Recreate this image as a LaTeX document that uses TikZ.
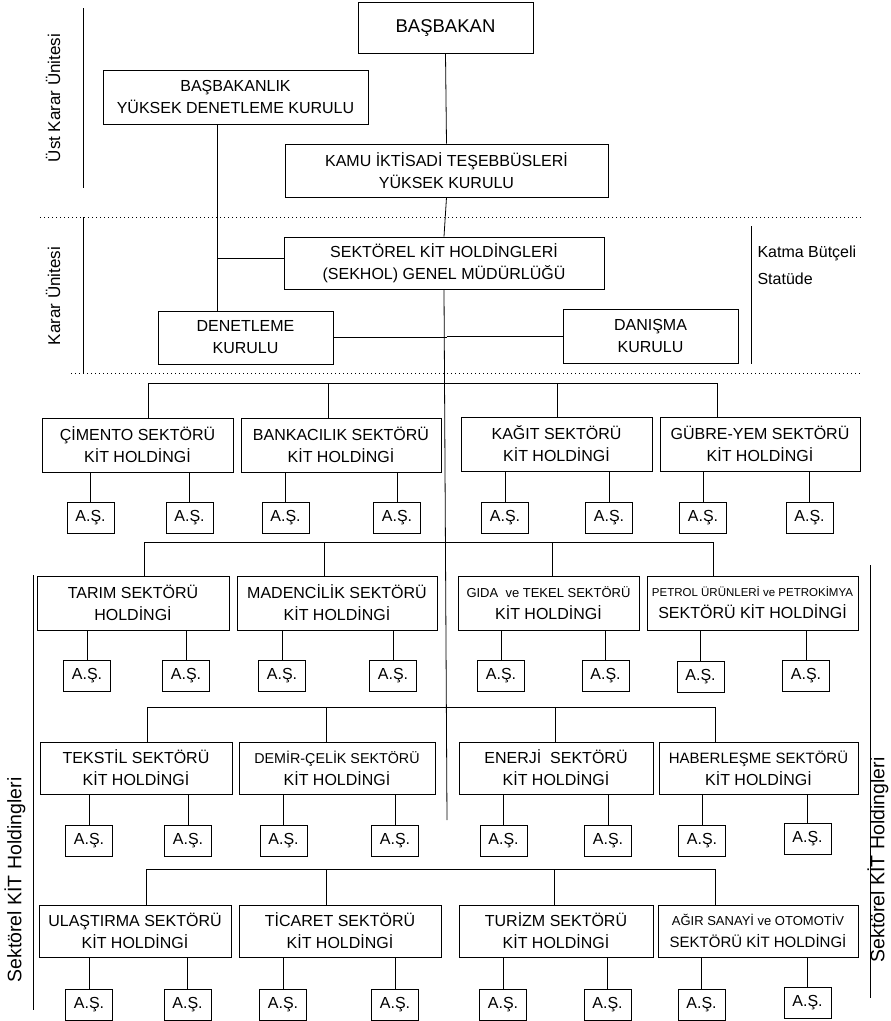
\documentclass[tikz,border=0pt]{standalone}
\usepackage{fontspec}
\setmainfont{Liberation Sans}
\begin{document}
\begin{tikzpicture}[x=1pt,y={(0pt,-1pt)},
  line/.style={line width=0.8pt},
  box/.style={draw,line width=0.8pt,fill=white,inner sep=0pt,align=center,font=\fontsize{16}{22}\selectfont},
  asbox/.style={draw,line width=0.8pt,fill=white,inner sep=0pt,minimum width=47pt,minimum height=31pt,font=\fontsize{16}{20}\selectfont},
  dotline/.style={line width=0.8pt,dash pattern=on 0.8pt off 3.2pt},
  side/.style={font=\fontsize{16}{20}\selectfont},
  bigside/.style={font=\fontsize{19.5}{22}\selectfont}]
\useasboundingbox (0,0) rectangle (891,1021);

% ---------- top part ----------
\node[box,minimum width=175pt,minimum height=51pt,font=\fontsize{18.5}{22}\selectfont] (bas) at (445.5,27.5) {BAŞBAKAN};
\node[box,minimum width=265pt,minimum height=54pt] (ykd) at (235.5,97) {BAŞBAKANLIK\\YÜKSEK DENETLEME KURULU};
\node[box,minimum width=323pt,minimum height=53pt] (kamu) at (446.5,170.5) {KAMU İKTİSADİ TEŞEBBÜSLERİ\\YÜKSEK KURULU};
\node[box,minimum width=320pt,minimum height=52pt] (sek) at (444,263) {SEKTÖREL KİT HOLDİNGLERİ\\(SEKHOL) GENEL MÜDÜRLÜĞÜ};
\node[box,minimum width=175pt,minimum height=53pt] (den) at (245.5,337.5) {DENETLEME\\KURULU};
\node[box,minimum width=175pt,minimum height=54pt] (dan) at (650.5,336) {DANIŞMA\\KURULU};

\coordinate (trunkend) at (447,820);
\coordinate (c1) at (217,258);
\draw[line] (bas.south) -- (kamu.north);
\draw[line] (kamu.south) -- (sek.north);
\draw[line] (sek.south) -- (trunkend);
\draw[line] (c1 |- ykd.south) -- (c1 |- den.north);
\draw[line] (c1) -- (c1 -| sek.west);
\draw[line] (den.east) -- (den.east -| trunkend);
\draw[line] (dan.west -| trunkend) -- (dan.west);

% side markers
\coordinate (u1) at (83,8);  \coordinate (u2) at (83,188);
\coordinate (k1) at (83,217); \coordinate (k2) at (83,373);
\coordinate (m1) at (751,226); \coordinate (m2) at (751,364);
\coordinate (s1) at (33,575); \coordinate (s2) at (33,1010);
\coordinate (t1) at (870,565); \coordinate (t2) at (870,998);
\draw[line] (u1) -- (u2);
\draw[line] (k1) -- (k2);
\draw[line] (m1) -- (m2);
\draw[line] (s1) -- (s2);
\draw[line] (t1) -- (t2);
\coordinate (d1a) at (40,217); \coordinate (d1b) at (861,217);
\coordinate (d2a) at (71,373); \coordinate (d2b) at (861,373);
\draw[dotline] (d1a) -- (d1b);
\draw[dotline] (d2a) -- (d2b);
\node[side,rotate=90,font=\fontsize{17}{20}\selectfont] (lu) at (53,98) {Üst Karar Ünitesi};
\node[side,rotate=90,font=\fontsize{17}{20}\selectfont] (lk) at (53,296) {Karar Ünitesi};
\node[side,anchor=west] (lm1) at (754,253) {Katma Bütçeli};
\node[side,anchor=west] (lm2) at (754,279) {Statüde};
\node[bigside,rotate=90] (ls) at (15,880) {Sektörel KİT Holdingleri};
\node[bigside,rotate=90] (lt) at (878,860) {Sektörel KİT Holdingleri};

% ---------- row 1 ----------
\node[box,minimum width=191pt,minimum height=54pt] (cim) at (137.5,445) {ÇİMENTO SEKTÖRÜ\\KİT HOLDİNGİ};
\node[box,minimum width=200pt,minimum height=54pt] (ban) at (341,445) {BANKACILIK SEKTÖRÜ\\KİT HOLDİNGİ};
\node[box,minimum width=191pt,minimum height=54pt] (kag) at (556.5,444) {KAĞIT SEKTÖRÜ\\KİT HOLDİNGİ};
\node[box,minimum width=200pt,minimum height=54pt] (gub) at (760,444) {GÜBRE-YEM SEKTÖRÜ\\KİT HOLDİNGİ};
\coordinate (r1a) at (148,383); \coordinate (r1b) at (328,383);
\coordinate (r1c) at (557,383); \coordinate (r1d) at (717,383);
\draw[line] (r1a) -- (r1d);
\draw[line] (r1a) -- (r1a |- cim.north);
\draw[line] (r1b) -- (r1b |- ban.north);
\draw[line] (r1c) -- (r1c |- kag.north);
\draw[line] (r1d) -- (r1d |- gub.north);
\node[asbox] (a11) at (90.5,517.5) {A.Ş.};
\node[asbox] (a12) at (189.5,517.5) {A.Ş.};
\node[asbox] (a13) at (285.5,517.5) {A.Ş.};
\node[asbox] (a14) at (397,517.5) {A.Ş.};
\node[asbox] (a15) at (505,517.5) {A.Ş.};
\node[asbox] (a16) at (609,517.5) {A.Ş.};
\node[asbox] (a17) at (703,517.5) {A.Ş.};
\node[asbox] (a18) at (809.5,517.5) {A.Ş.};
\draw[line] (a11.north) -- (a11.north |- cim.south);
\draw[line] (a12.north) -- (a12.north |- cim.south);
\draw[line] (a13.north) -- (a13.north |- ban.south);
\draw[line] (a14.north) -- (a14.north |- ban.south);
\draw[line] (a15.north) -- (a15.north |- kag.south);
\draw[line] (a16.north) -- (a16.north |- kag.south);
\draw[line] (a17.north) -- (a17.north |- gub.south);
\draw[line] (a18.north) -- (a18.north |- gub.south);

% ---------- row 2 ----------
\node[box,minimum width=192pt,minimum height=54pt] (tar) at (133,603) {TARIM SEKTÖRÜ\\HOLDİNGİ};
\node[box,minimum width=200pt,minimum height=54pt] (mad) at (337,603) {MADENCİLİK SEKTÖRÜ\\KİT HOLDİNGİ};
\node[box,minimum width=181pt,minimum height=54pt] (gid) at (548.5,603) {{\fontsize{13}{22}\selectfont GIDA \ ve TEKEL SEKTÖRÜ}\\KİT HOLDİNGİ};
\node[box,minimum width=211pt,minimum height=54pt] (pet) at (752.5,603) {{\fontsize{11.5}{22}\selectfont PETROL ÜRÜNLERİ ve PETROKİMYA}\\SEKTÖRÜ KİT HOLDİNGİ};
\coordinate (r2a) at (144,542); \coordinate (r2b) at (324,542);
\coordinate (r2c) at (552,542); \coordinate (r2d) at (713,542);
\draw[line] (r2a) -- (r2d);
\draw[line] (r2a) -- (r2a |- tar.north);
\draw[line] (r2b) -- (r2b |- mad.north);
\draw[line] (r2c) -- (r2c |- gid.north);
\draw[line] (r2d) -- (r2d |- pet.north);
\node[asbox] (a21) at (87,675.5) {A.Ş.};
\node[asbox] (a22) at (186,675.5) {A.Ş.};
\node[asbox] (a23) at (282,675.5) {A.Ş.};
\node[asbox] (a24) at (393,675.5) {A.Ş.};
\node[asbox] (a25) at (501,675.5) {A.Ş.};
\node[asbox] (a26) at (605.5,675.5) {A.Ş.};
\node[asbox] (a27) at (700.5,677) {A.Ş.};
\node[asbox] (a28) at (806,675.5) {A.Ş.};
\draw[line] (a21.north) -- (a21.north |- tar.south);
\draw[line] (a22.north) -- (a22.north |- tar.south);
\draw[line] (a23.north) -- (a23.north |- mad.south);
\draw[line] (a24.north) -- (a24.north |- mad.south);
\draw[line] (a25.north) -- (a25.north |- gid.south);
\draw[line] (a26.north) -- (a26.north |- gid.south);
\draw[line] (a27.north) -- (a27.north |- pet.south);
\draw[line] (a28.north) -- (a28.north |- pet.south);

% ---------- row 3 ----------
\node[box,minimum width=192pt,minimum height=52pt] (tek) at (136,768) {TEKSTİL SEKTÖRÜ\\KİT HOLDİNGİ};
\node[box,minimum width=196pt,minimum height=52pt] (dem) at (337,768) {{\fontsize{14.3}{22}\selectfont DEMİR-ÇELİK SEKTÖRÜ}\\KİT HOLDİNGİ};
\node[box,minimum width=194pt,minimum height=52pt] (ene) at (556,768) {ENERJİ \ SEKTÖRÜ\\KİT HOLDİNGİ};
\node[box,minimum width=199pt,minimum height=52pt] (hab) at (758.5,768) {{\fontsize{15}{22}\selectfont HABERLEŞME SEKTÖRÜ}\\KİT HOLDİNGİ};
\coordinate (r3a) at (147,707); \coordinate (r3b) at (326,707);
\coordinate (r3c) at (555,707); \coordinate (r3d) at (715,707);
\draw[line] (r3a) -- (r3d);
\draw[line] (r3a) -- (r3a |- tek.north);
\draw[line] (r3b) -- (r3b |- dem.north);
\draw[line] (r3c) -- (r3c |- ene.north);
\draw[line] (r3d) -- (r3d |- hab.north);
\node[asbox] (a31) at (89,841) {A.Ş.};
\node[asbox] (a32) at (188,841) {A.Ş.};
\node[asbox] (a33) at (283.5,841) {A.Ş.};
\node[asbox] (a34) at (395,841) {A.Ş.};
\node[asbox] (a35) at (503.5,841) {A.Ş.};
\node[asbox] (a36) at (608,841) {A.Ş.};
\node[asbox] (a37) at (702,841) {A.Ş.};
\node[asbox] (a38) at (807.5,839) {A.Ş.};
\draw[line] (a31.north) -- (a31.north |- tek.south);
\draw[line] (a32.north) -- (a32.north |- tek.south);
\draw[line] (a33.north) -- (a33.north |- dem.south);
\draw[line] (a34.north) -- (a34.north |- dem.south);
\draw[line] (a35.north) -- (a35.north |- ene.south);
\draw[line] (a36.north) -- (a36.north |- ene.south);
\draw[line] (a37.north) -- (a37.north |- hab.south);
\draw[line] (a38.north) -- (a38.north |- hab.south);

% ---------- row 4 ----------
\node[box,minimum width=192pt,minimum height=52pt] (ula) at (135,931) {ULAŞTIRMA SEKTÖRÜ\\KİT HOLDİNGİ};
\node[box,minimum width=202pt,minimum height=52pt] (tic) at (340,931) {TİCARET SEKTÖRÜ\\KİT HOLDİNGİ};
\node[box,minimum width=194pt,minimum height=52pt] (tur) at (556,931) {TURİZM SEKTÖRÜ\\KİT HOLDİNGİ};
\node[box,minimum width=200pt,minimum height=52pt] (agi) at (758,931) {{\fontsize{13}{22}\selectfont AĞIR SANAYİ ve OTOMOTİV}\\{\fontsize{15}{22}\selectfont SEKTÖRÜ KİT HOLDİNGİ}};
\coordinate (r4a) at (146,869); \coordinate (r4b) at (326,869);
\coordinate (r4c) at (554,869); \coordinate (r4d) at (715,869);
\draw[line] (r4a) -- (r4d);
\draw[line] (r4a) -- (r4a |- ula.north);
\draw[line] (r4b) -- (r4b |- tic.north);
\draw[line] (r4c) -- (r4c |- tur.north);
\draw[line] (r4d) -- (r4d |- agi.north);
\node[asbox] (a41) at (89,1005) {A.Ş.};
\node[asbox] (a42) at (187.5,1005) {A.Ş.};
\node[asbox] (a43) at (283,1005) {A.Ş.};
\node[asbox] (a44) at (395,1005) {A.Ş.};
\node[asbox] (a45) at (503,1005) {A.Ş.};
\node[asbox] (a46) at (607.5,1005) {A.Ş.};
\node[asbox] (a47) at (701.5,1005) {A.Ş.};
\node[asbox] (a48) at (807.5,1003) {A.Ş.};
\draw[line] (a41.north) -- (a41.north |- ula.south);
\draw[line] (a42.north) -- (a42.north |- ula.south);
\draw[line] (a43.north) -- (a43.north |- tic.south);
\draw[line] (a44.north) -- (a44.north |- tic.south);
\draw[line] (a45.north) -- (a45.north |- tur.south);
\draw[line] (a46.north) -- (a46.north |- tur.south);
\draw[line] (a47.north) -- (a47.north |- agi.south);
\draw[line] (a48.north) -- (a48.north |- agi.south);
\end{tikzpicture}
\end{document}
